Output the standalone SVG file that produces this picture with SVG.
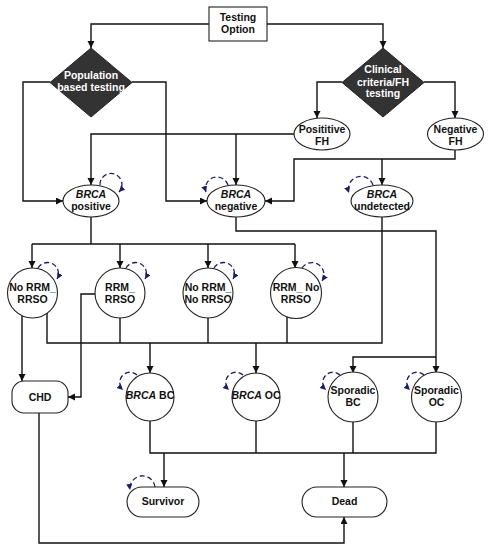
<svg xmlns="http://www.w3.org/2000/svg" width="489" height="550" viewBox="0 0 489 550">
<defs>
<marker id="arr" markerUnits="userSpaceOnUse" markerWidth="8" markerHeight="8" refX="7" refY="3.5" orient="auto"><path d="M0,0 L7,3.5 L0,7 z" fill="#111"/></marker>
<marker id="loop" markerUnits="userSpaceOnUse" markerWidth="8" markerHeight="8" refX="6" refY="3" orient="auto"><path d="M0,0 L6,3 L0,6 z" fill="#1a1a70"/></marker>
<style>
.c{fill:none;stroke:#111;stroke-width:1.4}
.l{fill:none;stroke:#1a1a70;stroke-width:1.3;stroke-dasharray:5,3}
.n{fill:#fff;stroke:#222;stroke-width:1.1}
.d{fill:#333;stroke:#222;stroke-width:1}
text{font-family:"Liberation Sans",Arial,sans-serif;font-size:10.5px;font-weight:bold;text-anchor:middle;fill:#111}
.w{fill:#fff}
.i{font-style:italic}
</style>
</defs>
<rect width="489" height="550" fill="#fff"/>
<g id="connectors">
<path class="c" d="M209,24 H91 V48" marker-end="url(#arr)"/>
<path class="c" d="M267,24 H383 V48" marker-end="url(#arr)"/>
<path class="c" d="M50,82 H23 V201 H63" marker-end="url(#arr)"/>
<path class="c" d="M132,82 H166 V201 H207" marker-end="url(#arr)"/>
<path class="c" d="M342,82 H317 V118" marker-end="url(#arr)"/>
<path class="c" d="M424,82 H455 V118" marker-end="url(#arr)"/>
<path class="c" d="M294,134 H91 V185" marker-end="url(#arr)"/>
<path class="c" d="M236,134 V185" marker-end="url(#arr)"/>
<path class="c" d="M455,150 V159 H294 V201 H265" marker-end="url(#arr)"/>
<path class="c" d="M382,159 V185" marker-end="url(#arr)"/>
<path class="c" d="M91,217 V244 M32,244 H295"/>
<path class="c" d="M32,244 V268" marker-end="url(#arr)"/>
<path class="c" d="M120,244 V268" marker-end="url(#arr)"/>
<path class="c" d="M208,244 V268" marker-end="url(#arr)"/>
<path class="c" d="M295,244 V268" marker-end="url(#arr)"/>
<path class="c" d="M236,217 V231 H436 V373" marker-end="url(#arr)"/>
<path class="c" d="M436,357 H353 V373" marker-end="url(#arr)"/>
<path class="c" d="M382,217 V343 H47 V313 M120,318 V343 M208,318 V343 M287,317 V343"/>
<path class="c" d="M22,316 V381" marker-end="url(#arr)"/>
<path class="c" d="M95,294 H81 V397 H68" marker-end="url(#arr)"/>
<path class="c" d="M150,343 V373" marker-end="url(#arr)"/>
<path class="c" d="M256,343 V373" marker-end="url(#arr)"/>
<path class="c" d="M150,421 V453 H436 V421 M256,421 V453 M353,421 V453"/>
<path class="c" d="M164,453 V487" marker-end="url(#arr)"/>
<path class="c" d="M344,453 V487" marker-end="url(#arr)"/>
<path class="c" d="M39,413 V543 H344 V517" marker-end="url(#arr)"/>
<path class="l" d="M100,185 A11,11 0 1 1 119,192" marker-end="url(#loop)"/>
<path class="l" d="M228,185 A11,11 0 1 0 206,192" marker-end="url(#loop)"/>
<path class="l" d="M373,185 A12,12 0 1 0 349,193" marker-end="url(#loop)"/>
<path class="l" d="M38,268 A10,10 0 1 1 57,279" marker-end="url(#loop)"/>
<path class="l" d="M126,268 A10,10 0 1 1 145,279" marker-end="url(#loop)"/>
<path class="l" d="M214,268 A10,10 0 1 1 233,279" marker-end="url(#loop)"/>
<path class="l" d="M302,268 A11,11 0 1 1 322,281" marker-end="url(#loop)"/>
<path class="l" d="M137,375 A10,10 0 1 0 123,390" marker-end="url(#loop)"/>
<path class="l" d="M243,375 A10,10 0 1 0 229,390" marker-end="url(#loop)"/>
<path class="l" d="M340,375 A10,10 0 1 0 326,390" marker-end="url(#loop)"/>
<path class="l" d="M424,375 A10,10 0 1 0 410,390" marker-end="url(#loop)"/>
<path class="l" d="M155,487 A10,10 0 1 0 130,490" marker-end="url(#loop)"/>
</g>
<g id="testing-option"><rect class="n" x="209" y="7" width="58" height="34"/><text x="238" y="21">Testing</text><text x="238" y="33">Option</text></g>
<g id="population"><path class="d" d="M91,48 L132,82.5 L91,117 L50,82.5 z"/><text class="w" x="91" y="79">Population</text><text class="w" x="91" y="91">based testing</text></g>
<g id="clinical"><path class="d" d="M383,48 L424,82.5 L383,117 L342,82.5 z"/><text class="w" x="383" y="73">Clinical</text><text class="w" x="383" y="86">criteria/FH</text><text class="w" x="383" y="97">testing</text></g>
<g id="positive-fh"><ellipse class="n" cx="322" cy="134" rx="28" ry="16"/><text x="322" y="133">Posititive</text><text x="322" y="145">FH</text></g>
<g id="negative-fh"><ellipse class="n" cx="455.5" cy="134" rx="28" ry="16"/><text x="455.5" y="133">Negative</text><text x="455.5" y="145">FH</text></g>
<g id="brca-positive"><ellipse class="n" cx="91" cy="201" rx="28" ry="16"/><text class="i" x="91" y="198">BRCA</text><text x="91" y="210">positive</text></g>
<g id="brca-negative"><ellipse class="n" cx="236" cy="201" rx="29" ry="16"/><text class="i" x="236" y="198">BRCA</text><text x="236" y="210">negative</text></g>
<g id="brca-undetected"><ellipse class="n" cx="382" cy="201" rx="31" ry="16"/><text class="i" x="382" y="198">BRCA</text><text x="382" y="210">undetected</text></g>
<g id="no-rrm-rrso"><circle class="n" cx="32.5" cy="293" r="25"/><text x="32.5" y="291">No RRM_</text><text x="32.5" y="303">RRSO</text></g>
<g id="rrm-rrso"><circle class="n" cx="120" cy="293" r="25"/><text x="120" y="291">RRM_</text><text x="120" y="303">RRSO</text></g>
<g id="no-rrm-no-rrso"><circle class="n" cx="208" cy="293" r="25"/><text x="208" y="291">No RRM_</text><text x="208" y="303">No RRSO</text></g>
<g id="rrm-no-rrso"><circle class="n" cx="296" cy="293" r="25.5"/><text x="296" y="291">RRM_ No</text><text x="296" y="303">RRSO</text></g>
<g id="chd"><rect class="n" x="12" y="381" width="56" height="32" rx="12"/><text x="40" y="401">CHD</text></g>
<g id="brca-bc"><circle class="n" cx="150" cy="397" r="24"/><text x="150" y="399"><tspan class="i">BRCA</tspan> BC</text></g>
<g id="brca-oc"><circle class="n" cx="256" cy="397" r="24"/><text x="256" y="399"><tspan class="i">BRCA</tspan> OC</text></g>
<g id="sporadic-bc"><circle class="n" cx="353" cy="397" r="25"/><text x="353" y="394">Sporadic</text><text x="353" y="406">BC</text></g>
<g id="sporadic-oc"><circle class="n" cx="436.5" cy="397" r="25"/><text x="436.5" y="394">Sporadic</text><text x="436.5" y="406">OC</text></g>
<g id="survivor"><rect class="n" x="127" y="487" width="72" height="30" rx="15"/><text x="163" y="505">Survivor</text></g>
<g id="dead"><rect class="n" x="302" y="487" width="85" height="30" rx="15"/><text x="344.5" y="505">Dead</text></g>
</svg>
